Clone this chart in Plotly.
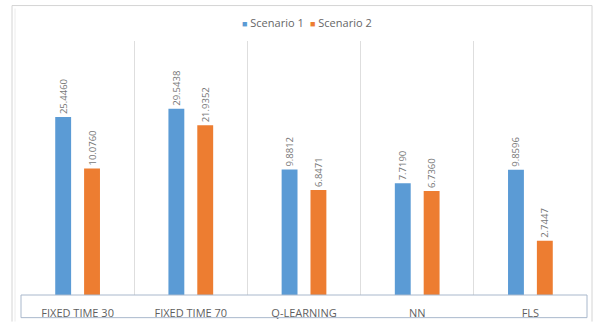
import plotly.graph_objects as go

categories = ["FIXED TIME 30", "FIXED TIME 70", "Q-LEARNING", "NN", "FLS"]
scenario1 = [25.4460, 29.5438, 9.8812, 7.7190, 9.8596]
scenario2 = [10.0760, 21.9352, 6.8471, 6.7360, 2.7447]
labels1 = ["25.4460", "29.5438", "9.8812", "7.7190", "9.8596"]
labels2 = ["10.0760", "21.9352", "6.8471", "6.7360", "2.7447"]
series_names = ["Scenario 1", "Scenario 2"]
colors = ["#5B9BD5", "#ED7D31"]

W, H = 593, 326
L, R, T, B = 21, 6, 41, 27
pw, ph = W - L - R, H - T - B

def px_x(x):
    return (x - L) / pw

def px_y(y):
    return (H - B - y) / ph

txtfont = dict(family="Open Sans", size=9.5, color="#777777")

fig = go.Figure()
for name, vals, labs, col in zip(series_names, [scenario1, scenario2], [labels1, labels2], colors):
    fig.add_trace(go.Bar(name=name, x=categories, y=vals, text=labs,
                         marker=dict(color=col, line=dict(width=0)),
                         textposition="outside", textangle=-90, textfont=txtfont,
                         cliponaxis=False, showlegend=False))

# legend drawn as text entries
legend_x = [273, 341]
annotations = []
for name, col, lx in zip(series_names, colors, legend_x):
    annotations.append(dict(
        xref="paper", yref="paper", x=px_x(lx), y=px_y(22), xanchor="center", yanchor="middle",
        text=f"<span style='color:{col};font-size:9px'>■</span> {name}",
        showarrow=False, font=dict(family="Open Sans", size=11, color="#666666")))

frame = "#d4d4d4"
sel = "#a9b8cc"
shapes = [
    dict(type="line", xref="paper", yref="paper", x0=px_x(12), x1=px_x(592), y0=px_y(5), y1=px_y(5), line=dict(color=frame, width=1)),
    dict(type="line", xref="paper", yref="paper", x0=px_x(12), x1=px_x(12), y0=px_y(5), y1=px_y(326), line=dict(color=frame, width=1)),
    dict(type="line", xref="paper", yref="paper", x0=px_x(15), x1=px_x(15), y0=px_y(8), y1=px_y(326), line=dict(color="#ececec", width=1)),
    dict(type="line", xref="paper", yref="paper", x0=px_x(592), x1=px_x(592), y0=px_y(5), y1=px_y(326), line=dict(color=frame, width=1)),
    dict(type="rect", xref="paper", yref="paper", x0=0, x1=1, y0=px_y(322), y1=0, line=dict(color=sel, width=1)),
]

fig.update_layout(
    width=W, height=H,
    margin=dict(l=L, r=R, t=T, b=B),
    paper_bgcolor="white", plot_bgcolor="white",
    barmode="group", bargap=0.49, bargroupgap=0.45,
    uniformtext=dict(minsize=9.5, mode="show"),
    showlegend=False,
    xaxis=dict(type="category", tickson="boundaries", showgrid=True, gridcolor="#dedede", gridwidth=1,
               ticks="", showline=False, zeroline=False,
               tickfont=dict(family="Open Sans", size=11, color="#5f5f5f"),
               ticklabelstandoff=10),
    yaxis=dict(type="log", range=[0.015, 2.0], showticklabels=False, showgrid=False,
               zeroline=False, showline=False, ticks=""),
    shapes=shapes,
    annotations=annotations,
    font=dict(family="Open Sans"),
)

fig.write_html("out.html")
